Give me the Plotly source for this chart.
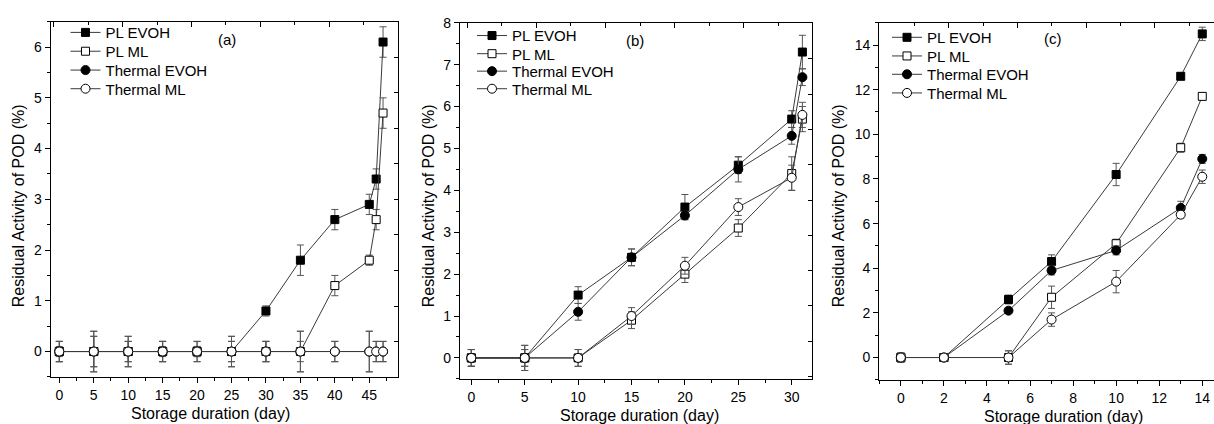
import plotly.graph_objects as go

# ---------------- data ----------------
series_names = ["PL EVOH", "PL ML", "Thermal EVOH", "Thermal ML"]

a_days = [0, 5, 10, 15, 20, 25, 30, 35, 40, 45, 46, 47]
a_pl_evoh = [0, 0, 0, 0, 0, 0, 0.8, 1.8, 2.6, 2.9, 3.4, 6.1]
a_pl_evoh_err = [0.2, 0.3, 0.3, 0.2, 0.2, 0.3, 0.1, 0.3, 0.2, 0.2, 0.2, 0.3]
a_pl_ml = [0, 0, 0, 0, 0, 0, 0, 0, 1.3, 1.8, 2.6, 4.7]
a_pl_ml_err = [0.1, 0.4, 0.2, 0.1, 0.1, 0.2, 0.2, 0.4, 0.2, 0.1, 0.2, 0.3]
a_th_evoh = [0, 0, 0, 0, 0, 0, 0, 0, 0, 0, 0, 0]
a_th_evoh_err = [0.2, 0.3, 0.2, 0.2, 0.2, 0.2, 0.2, 0.2, 0.2, 0.4, 0.2, 0.2]
a_th_ml = [0, 0, 0, 0, 0, 0, 0, 0, 0, 0, 0, 0]
a_th_ml_err = [0.2, 0.4, 0.3, 0.2, 0.1, 0.3, 0.2, 0.4, 0.2, 0.4, 0.2, 0.2]

b_days = [0, 5, 10, 15, 20, 25, 30, 31]
b_pl_evoh = [0, 0, 1.5, 2.4, 3.6, 4.6, 5.7, 7.3]
b_pl_evoh_err = [0.2, 0.3, 0.2, 0.2, 0.3, 0.2, 0.2, 0.4]
b_pl_ml = [0, 0, 0, 0.9, 2.0, 3.1, 4.4, 5.7]
b_pl_ml_err = [0.2, 0.3, 0.2, 0.2, 0.2, 0.2, 0.4, 0.3]
b_th_evoh = [0, 0, 1.1, 2.4, 3.4, 4.5, 5.3, 6.7]
b_th_evoh_err = [0.2, 0.2, 0.2, 0.2, 0.1, 0.3, 0.2, 0.2]
b_th_ml = [0, 0, 0, 1.0, 2.2, 3.6, 4.3, 5.8]
b_th_ml_err = [0.2, 0.2, 0.2, 0.2, 0.2, 0.2, 0.3, 0.3]

c_days = [0, 2, 5, 7, 10, 13, 14]
c_pl_evoh = [0, 0, 2.6, 4.3, 8.2, 12.6, 14.5]
c_pl_evoh_err = [0.2, 0.15, 0.2, 0.3, 0.5, 0.15, 0.3]
c_pl_ml = [0, 0, 0, 2.7, 5.1, 9.4, 11.7]
c_pl_ml_err = [0.2, 0.15, 0.3, 0.5, 0.2, 0.2, 0.15]
c_th_evoh = [0, 0, 2.1, 3.9, 4.8, 6.7, 8.9]
c_th_evoh_err = [0.2, 0.15, 0.1, 0.2, 0.2, 0.3, 0.2]
c_th_ml = [0, 0, 0, 1.7, 3.4, 6.4, 8.1]
c_th_ml_err = [0.2, 0.15, 0.3, 0.3, 0.5, 0.15, 0.3]

panel_labels = ["(a)", "(b)", "(c)"]
x_title = "Storage duration (day)"
y_title = "Residual Activity of POD (%)"

# ---------------- layout helpers ----------------
W, H = 1214, 424
FONT = "Liberation Sans, Arial, sans-serif"
LINE_C = "#3a3a3a"
ERR_C = "#555555"


def fx(p):
    return p / W


def fy(p):
    return 1 - p / H


styles = [
    dict(symbol="square", color="black", line=dict(color="black", width=1), size=8),
    dict(symbol="square", color="white", line=dict(color="black", width=1), size=8),
    dict(symbol="circle", color="black", line=dict(color="black", width=1), size=9),
    dict(symbol="circle", color="white", line=dict(color="black", width=1), size=9),
]

panels = [
    dict(days=a_days,
         ys=[a_pl_evoh, a_pl_ml, a_th_evoh, a_th_ml],
         errs=[a_pl_evoh_err, a_pl_ml_err, a_th_evoh_err, a_th_ml_err],
         box=(50.7, 398, 14, 376), xr=[-1.25, 49.17], yr=[-0.5, 6.5],
         xd=5, xm=2.5, yd=1, ym=0.5,
         leg_x=65.5, leg_rows=[33.3, 52.5, 71.7, 90.7]),
    dict(days=b_days,
         ys=[b_pl_evoh, b_pl_ml, b_th_evoh, b_th_ml],
         errs=[b_pl_evoh_err, b_pl_ml_err, b_th_evoh_err, b_th_ml_err],
         box=(460, 812, 15, 378), xr=[-1.06, 31.9], yr=[-0.5, 8],
         xd=5, xm=2.5, yd=1, ym=0.5,
         leg_x=472, leg_rows=[36.5, 55, 72.8, 90.7]),
    dict(days=c_days,
         ys=[c_pl_evoh, c_pl_ml, c_th_evoh, c_th_ml],
         errs=[c_pl_evoh_err, c_pl_ml_err, c_th_evoh_err, c_th_ml_err],
         box=(879.3, 1214, 15, 379), xr=[-1, 14.545], yr=[-1, 15],
         xd=2, xm=1, yd=2, ym=1,
         leg_x=887, leg_rows=[38.3, 57.3, 76, 95]),
]

fig = go.Figure()
legend_cfg = {}
LEG_OFFSET = 25  # legend top -> item centre (px)

for i, p in enumerate(panels):
    sfx = "" if i == 0 else str(i + 1)
    for j, name in enumerate(series_names):
        k = i * 4 + j
        lname = "legend" if k == 0 else "legend%d" % (k + 1)
        fig.add_trace(go.Scatter(
            x=p["days"], y=p["ys"][j], name=name, mode="lines+markers",
            line=dict(color=LINE_C, width=1),
            marker=styles[j],
            error_y=dict(type="data", array=p["errs"][j], visible=True,
                         color=ERR_C, thickness=1, width=3.5),
            xaxis="x" + sfx, yaxis="y" + sfx,
            legend=lname,
        ))
        legend_cfg[lname] = dict(
            x=fx(p["leg_x"]), y=fy(p["leg_rows"][j] - LEG_OFFSET),
            xanchor="left", yanchor="top", xref="paper", yref="paper",
            bgcolor="rgba(0,0,0,0)", borderwidth=0,
            font=dict(family=FONT, size=15, color="black"))

axis_common = dict(showgrid=False, zeroline=False, showline=True,
                   linecolor="black", linewidth=1.3, ticks="outside",
                   ticklen=5, tickwidth=1.2, tickcolor="black",
                   tickfont=dict(family=FONT, size=14, color="black"))

for i, p in enumerate(panels):
    sfx = "" if i == 0 else str(i + 1)
    l, r, t, b = p["box"]
    fig.update_layout(**{
        "xaxis" + sfx: dict(axis_common, domain=[fx(l), fx(r)], range=p["xr"],
                            anchor="y" + sfx, tickmode="linear", tick0=0,
                            dtick=p["xd"], mirror=True,
                            minor=dict(dtick=p["xm"], tick0=0, ticks="outside",
                                       ticklen=3, tickcolor="black", tickwidth=1.2)),
        "yaxis" + sfx: dict(axis_common, domain=[fy(b), fy(t)], range=p["yr"],
                            anchor="x" + sfx, tickmode="linear", tick0=0,
                            dtick=p["yd"], mirror=(i < 2),
                            minor=dict(dtick=p["ym"], tick0=0, ticks="outside",
                                       ticklen=3, tickcolor="black", tickwidth=1.2)),
    })

# independent top / right tick layers (pixel-based scales, no labels)
top_ticks = [(53.9, 34.4), (467.0, 34.6), (880.3, 34.3)]
right_ticks = [(50.0, 36.25), (51.7, 36.0)]
overlay_x = ["x4", "x5", "x6"]
overlay_y = ["y4", "y5", None]
for i, p in enumerate(panels):
    sfx = "" if i == 0 else str(i + 1)
    l, r, t, b = p["box"]
    t0, dt = top_ticks[i]
    xa = overlay_x[i]
    fig.update_layout(**{
        "xaxis" + xa[1:]: dict(overlaying="x" + sfx, side="top", anchor="y" + sfx,
                               range=[l, r], tickmode="linear", tick0=t0, dtick=2 * dt,
                               ticks="inside", ticklen=5, tickwidth=1.2, tickcolor="black",
                               showticklabels=False, showgrid=False, zeroline=False,
                               showline=False,
                               minor=dict(tick0=t0 + dt, dtick=2 * dt, ticks="inside",
                                          ticklen=3, tickwidth=1.2, tickcolor="black"))
    })
    ya = overlay_y[i]
    if ya is not None:
        r0, rd = right_ticks[i]
        fig.update_layout(**{
            "yaxis" + ya[1:]: dict(overlaying="y" + sfx, side="right", anchor="x" + sfx,
                                   range=[-b, -t], tickmode="linear", tick0=-r0, dtick=rd,
                                   ticks="inside", ticklen=4, tickwidth=1.2,
                                   tickcolor="black", showticklabels=False,
                                   showgrid=False, zeroline=False, showline=False)
        })
        yref = ya
    else:
        yref = "y" + sfx
    fig.add_trace(go.Scatter(x=[None], y=[None], xaxis=xa, yaxis=yref,
                             showlegend=False, hoverinfo="skip", mode="markers"))

annotations = []
ytitle_x = [18, 428, 838]
xtitle_pos = [(210, 413), (639, 415), (1063.3, 416)]
label_pos = [(226.7, 31.7), (635, 33), (1052.7, 30.7)]
for i in range(3):
    annotations.append(dict(text=y_title, x=fx(ytitle_x[i]), y=fy(202), xref="paper",
                            yref="paper", showarrow=False, textangle=-90,
                            font=dict(family=FONT, size=16, color="black"),
                            xanchor="center", yanchor="middle"))
    annotations.append(dict(text=x_title, x=fx(xtitle_pos[i][0]), y=fy(xtitle_pos[i][1]),
                            xref="paper", yref="paper", showarrow=False,
                            font=dict(family=FONT, size=16, color="black"),
                            xanchor="center", yanchor="middle"))
    annotations.append(dict(text=panel_labels[i], x=fx(label_pos[i][0]), y=fy(label_pos[i][1]),
                            xref="paper", yref="paper", showarrow=False,
                            font=dict(family=FONT, size=15, color="black"),
                            xanchor="center", yanchor="middle"))

fig.update_layout(
    width=W, height=H, margin=dict(l=0, r=0, t=0, b=0),
    paper_bgcolor="white", plot_bgcolor="white",
    font=dict(family=FONT, color="black"),
    annotations=annotations,
    **legend_cfg,
)

fig.write_html("out.html")
